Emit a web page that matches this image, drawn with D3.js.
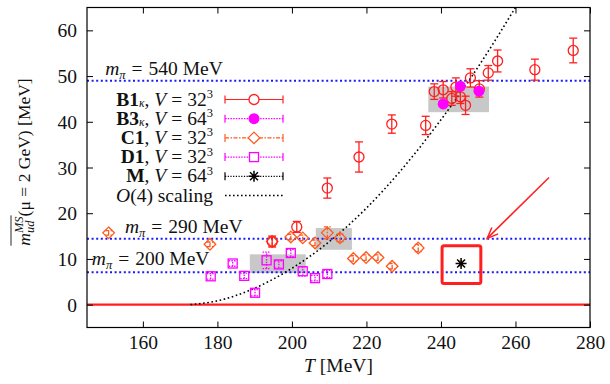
<!DOCTYPE html>
<html>
<head>
<meta charset="utf-8">
<script src="https://cdn.jsdelivr.net/npm/d3@7"></script>
<style>
body { margin: 0; background: #fff; }
svg text { font-family: "Liberation Serif", "DejaVu Serif", serif; font-size: 19.5px; white-space: pre; fill: #111; }
</style>
</head>
<body>
<svg width="610" height="384"></svg>
<script>
// B1_kappa, V=32^3 : T, m, error
var b1T = [194.7, 201.3, 209.5, 218.0, 226.8, 235.9, 238.2, 240.6, 242.9, 244.0, 245.2, 246.6, 247.9, 250.3, 252.7, 255.2, 265.2, 275.5];
var b1M = [13.8, 17.0, 25.5, 32.3, 39.5, 39.2, 46.6, 47.0, 45.1, 47.6, 45.5, 43.6, 49.6, 47.2, 50.7, 53.3, 51.4, 55.6];
var b1Err = [1.2, 1.2, 2.2, 3.3, 2.0, 2.0, 1.7, 1.8, 1.5, 2.0, 1.5, 2.0, 2.0, 1.8, 1.6, 2.4, 2.3, 2.7];

// B3_kappa, V=64^3
var b3T = [240.6, 245.2, 250.2];
var b3M = [43.9, 47.8, 46.7];
var b3Err = [0.6, 0.6, 0.6];

// C1, V=32^3
var c1T = [150.8, 178.0, 194.7, 199.7, 202.9, 206.2, 209.5, 212.9, 216.5, 219.9, 223.1, 226.9, 233.9];
var c1M = [15.7, 13.2, 13.8, 14.8, 14.6, 13.5, 15.7, 14.6, 10.1, 10.3, 10.3, 8.4, 12.4];
var c1Err = [0.5, 0.5, 1.0, 0.6, 0.6, 0.6, 1.3, 0.8, 0.6, 0.6, 0.6, 0.6, 0.8];

// D1, V=32^3
var d1T = [178.2, 184.1, 187.2, 190.1, 193.2, 196.5, 199.7, 202.9, 206.2, 209.5];
var d1M = [6.2, 9.0, 6.3, 2.6, 9.7, 8.8, 11.3, 7.3, 5.8, 6.7];
var d1Err = [0.6, 0.6, 0.6, 0.7, 1.8, 0.8, 0.8, 1.0, 0.6, 0.8];

// M, V=64^3
var mT = [245.4];
var mM = [9.0];
var mErr = [0.6];

// O(4) scaling curve
var o4T = [172.8, 179.8, 189.7, 199.7, 209.6, 219.6, 229.5, 239.4, 249.4, 259.3, 261.3];
var o4M = [0, 0.8, 3.5, 7.8, 13.5, 20.8, 29.6, 39.8, 51.3, 64.1, 66.8];

// pion mass lines
var mpiLabels = ["540", "290", "200"];
var mpiLevels = [49.0, 14.4, 7.1];
var mpiTextT = [149.9, 155.2, 146.3];
var mpiTextM = [50.2, 15.7, 8.7];

// gray boxes [T0, T1, m0, m1]
var grayBoxes = [[236.6, 252.9, 42.1, 47.7], [188.7, 203.7, 6.9, 11.0], [206.4, 216.1, 12.0, 16.75]];
// red highlight box and arrow
var redBox = [240.3, 250.7, 4.6, 12.9];
var arrowFrom = [269.0, 27.8];
var arrowTo = [252.4, 14.5];

var xTicks = [160, 180, 200, 220, 240, 260, 280];
var yTicks = [0, 10, 20, 30, 40, 50, 60];

var cRed = "#ff1f1f", cMag = "#ff00ff", cOrange = "#ff5a1e", cBlue = "#1a1aff";

var svg = d3.select("svg");
var margin = {top: 7.5, right: 20, bottom: 56.5, left: 87};
var width = 610 - margin.left - margin.right;
var height = 384 - margin.top - margin.bottom;
var g = svg.append("g").attr("transform", "translate(" + margin.left + "," + margin.top + ")");

var x = d3.scaleLinear().domain([145, 280]).range([0, width]);
var y = d3.scaleLinear().domain([-5, 65]).range([height, 0]);

var defs = svg.append("defs");
defs.append("clipPath").attr("id", "plot").append("rect").attr("width", width).attr("height", height);
defs.append("marker").attr("id", "head").attr("markerUnits", "userSpaceOnUse")
    .attr("markerWidth", 14).attr("markerHeight", 14).attr("refX", 12).attr("refY", 7)
    .attr("orient", "auto")
    .append("path").attr("d", "M1,2.5 L12,7 L1,11.5").attr("fill", "none")
    .attr("stroke", cRed).attr("stroke-width", 1.5);

// text made of pieces (italic, bold, sub, sup, padding)
function rich(parent, x0, y0, pieces, anchor, size) {
    var grp = parent.append("g");
    var cx = 0, prevStart = 0;
    pieces.forEach(function(p) {
        var pad = p.pad || 0;
        var start = p.back ? prevStart : cx + pad;
        var t = grp.append("text")
            .attr("x", start)
            .attr("y", p.sub ? (p.sd || 4) : (p.sup ? -7.5 : 0))
            .style("font-size", p.fs || ((p.sub || p.sup) ? "12.5px" : (size || null)))
            .style("font-style", p.i ? "italic" : "normal")
            .style("font-weight", p.b ? "bold" : "normal")
            .text(p.t);
        var w = t.node().getComputedTextLength();
        p.x = start; p.w = w;
        prevStart = start;
        cx = Math.max(cx, start + w + pad);
    });
    var shift = anchor === "end" ? -cx : (anchor === "middle" ? -cx / 2 : 0);
    grp.attr("transform", "translate(" + (x0 + shift) + "," + y0 + ")");
    return grp;
}

// gray boxes
g.selectAll(".gbox").data(grayBoxes).enter().append("rect")
    .attr("x", function(d) { return x(d[0]); })
    .attr("y", function(d) { return y(d[3]); })
    .attr("width", function(d) { return x(d[1]) - x(d[0]); })
    .attr("height", function(d) { return y(d[2]) - y(d[3]); })
    .attr("fill", "#c8c8c8");

// pion mass lines and zero line
g.selectAll(".mpi").data(mpiLevels).enter().append("line")
    .attr("x1", 0).attr("x2", width)
    .attr("y1", function(d) { return y(d); }).attr("y2", function(d) { return y(d); })
    .attr("stroke", cBlue).attr("stroke-width", 2).attr("stroke-dasharray", "2,2.6");
g.append("line").attr("x1", 0).attr("x2", width).attr("y1", y(0)).attr("y2", y(0))
    .attr("stroke", cRed).attr("stroke-width", 2.2);

mpiLabels.forEach(function(lab, i) {
    rich(g, x(mpiTextT[i]), y(mpiTextM[i]),
        [{t: "m", i: 1}, {t: "π", i: 1, sub: 1}, {t: "=", pad: 6}, {t: lab + " MeV"}], "start");
});

// O(4) curve
g.append("path")
    .datum(o4T.map(function(t, i) { return [t, o4M[i]]; }))
    .attr("clip-path", "url(#plot)")
    .attr("fill", "none").attr("stroke", "#000").attr("stroke-width", 1.6)
    .attr("stroke-dasharray", "1.6,2.6")
    .attr("d", d3.line().curve(d3.curveMonotoneX)
        .x(function(d) { return x(d[0]); }).y(function(d) { return y(d[1]); }));

function errBars(T, M, E, color, dash, cap) {
    var eg = g.append("g").attr("stroke", color).attr("stroke-width", 1.3).attr("stroke-dasharray", dash);
    T.forEach(function(t, i) {
        var px = x(t), lo = y(M[i] - E[i]), hi = y(M[i] + E[i]);
        eg.append("line").attr("x1", px).attr("x2", px).attr("y1", lo).attr("y2", hi);
        eg.append("line").attr("x1", px - cap).attr("x2", px + cap).attr("y1", lo).attr("y2", lo);
        eg.append("line").attr("x1", px - cap).attr("x2", px + cap).attr("y1", hi).attr("y2", hi);
    });
}

function diamond(s) { return "M0," + (-s) + "L" + s + ",0L0," + s + "L" + (-s) + ",0Z"; }
function asterisk(s) {
    var k = s * 0.72;
    return "M" + (-s) + ",0H" + s + "M0," + (-s) + "V" + s +
        "M" + (-k) + "," + (-k) + "L" + k + "," + k + "M" + (-k) + "," + k + "L" + k + "," + (-k);
}

// D1
errBars(d1T, d1M, d1Err, cMag, "1.5,1.2", 4);
g.selectAll(".d1").data(d1T).enter().append("rect")
    .attr("x", function(d) { return x(d) - 4.5; })
    .attr("y", function(d, i) { return y(d1M[i]) - 4.5; })
    .attr("width", 9).attr("height", 9)
    .attr("fill", "none").attr("stroke", cMag).attr("stroke-width", 1.3);

// C1
errBars(c1T, c1M, c1Err, cOrange, "4,1.5,1.5,1.5", 3.5);
g.selectAll(".c1").data(c1T).enter().append("path")
    .attr("transform", function(d, i) { return "translate(" + x(d) + "," + y(c1M[i]) + ")"; })
    .attr("d", diamond(5.8))
    .attr("fill", "none").attr("stroke", cOrange).attr("stroke-width", 1.3);

// B1
errBars(b1T, b1M, b1Err, cRed, null, 4);
g.selectAll(".b1").data(b1T).enter().append("circle")
    .attr("cx", function(d) { return x(d); })
    .attr("cy", function(d, i) { return y(b1M[i]); })
    .attr("r", 5).attr("fill", "none").attr("stroke", cRed).attr("stroke-width", 1.3);

// B3
errBars(b3T, b3M, b3Err, cMag, "1.5,1.2", 3.5);
g.selectAll(".b3").data(b3T).enter().append("circle")
    .attr("cx", function(d) { return x(d); })
    .attr("cy", function(d, i) { return y(b3M[i]); })
    .attr("r", 5.5).attr("fill", cMag);

// M
errBars(mT, mM, mErr, cOrange, "1.5,1.2", 3);
g.selectAll(".mm").data(mT).enter().append("path")
    .attr("transform", function(d, i) { return "translate(" + x(d) + "," + y(mM[i]) + ")"; })
    .attr("d", asterisk(5.5)).attr("stroke", "#000").attr("stroke-width", 1.5);

// axes, ticks inward on all sides
var ax = g.append("g").attr("transform", "translate(0," + height + ")")
    .call(d3.axisBottom(x).tickValues(xTicks).tickSize(-6).tickSizeOuter(0));
ax.selectAll("text").attr("y", 21).attr("dy", null);
g.append("g").call(d3.axisTop(x).tickValues(xTicks).tickSize(-6).tickSizeOuter(0).tickFormat(""));
var ay = g.append("g").call(d3.axisLeft(y).tickValues(yTicks).tickSize(-6).tickSizeOuter(0));
ay.selectAll("text").attr("x", -10).attr("dy", "0.34em");
g.append("g").attr("transform", "translate(" + width + ",0)")
    .call(d3.axisRight(y).tickValues(yTicks).tickSize(-6).tickSizeOuter(0).tickFormat(""));
g.selectAll(".domain").remove();
g.selectAll(".tick line").attr("stroke", "#000");
g.append("rect").attr("width", width).attr("height", height)
    .attr("fill", "none").attr("stroke", "#000").attr("stroke-width", 1.2);

// axis titles
rich(svg, margin.left + width / 2, 372, [{t: "T", i: 1}, {t: " [MeV]"}], "middle");
var yl = svg.append("g").attr("transform", "translate(30,162) rotate(-90)");
var ylPieces = [{t: "m", i: 1}, {t: "ud", i: 1, sub: 1}, {t: "MS", i: 1, sup: 1, back: 1},
    {t: "(μ"}, {t: "=", pad: 4.5}, {t: "2 GeV) [MeV]"}];
var ylg = rich(yl, 0, 0, ylPieces, "middle", "17.5px");
ylg.append("line").attr("x1", ylPieces[0].x).attr("x2", ylPieces[2].x + ylPieces[2].w + 1)
    .attr("y1", -19).attr("y2", -19).attr("stroke", "#111").attr("stroke-width", 0.9);

// legend
var kap = {t: "κ", i: 1, sub: 1, sd: 1.5, fs: "11.5px"};
var legRows = [
    {p: [{t: "B1", b: 1}, kap, {t: ", "}, {t: "V", i: 1}, {t: "=", pad: 5}, {t: "32"}, {t: "3", sup: 1}], color: cRed, dash: null, sym: "circle", ends: true},
    {p: [{t: "B3", b: 1}, kap, {t: ", "}, {t: "V", i: 1}, {t: "=", pad: 5}, {t: "64"}, {t: "3", sup: 1}], color: cMag, dash: "1.5,1.2", sym: "dot", ends: true},
    {p: [{t: "C1", b: 1}, {t: ", "}, {t: "V", i: 1}, {t: "=", pad: 5}, {t: "32"}, {t: "3", sup: 1}], color: cOrange, dash: "4,1.5,1.5,1.5", sym: "diamond", ends: true},
    {p: [{t: "D1", b: 1}, {t: ", "}, {t: "V", i: 1}, {t: "=", pad: 5}, {t: "32"}, {t: "3", sup: 1}], color: cMag, dash: "1.5,1.2", sym: "square", ends: true},
    {p: [{t: "M", b: 1}, {t: ", "}, {t: "V", i: 1}, {t: "=", pad: 5}, {t: "64"}, {t: "3", sup: 1}], color: "#000", dash: "1.2,1.5", sym: "star", ends: true},
    {p: [{t: "O", i: 1}, {t: "(4) scaling"}], color: "#000", dash: "1.6,2.4", sym: null, ends: false}
];
legRows.forEach(function(r, i) {
    var ry = 99.5 + i * 19.2;
    rich(svg, 213, ry + 6, r.p, "end");
    var lg = svg.append("g").attr("stroke", r.color).attr("stroke-width", r.sym ? 1.2 : 1.6);
    lg.append("line").attr("x1", 225).attr("x2", 283).attr("y1", ry).attr("y2", ry).attr("stroke-dasharray", r.dash);
    if (r.ends) {
        lg.append("line").attr("x1", 225).attr("x2", 225).attr("y1", ry - 4).attr("y2", ry + 4);
        lg.append("line").attr("x1", 283).attr("x2", 283).attr("y1", ry - 4).attr("y2", ry + 4);
    }
    if (r.sym === "circle") lg.append("circle").attr("cx", 254).attr("cy", ry).attr("r", 5).attr("fill", "#fff").attr("stroke-width", 1.3);
    if (r.sym === "dot") lg.append("circle").attr("cx", 254).attr("cy", ry).attr("r", 5.5).attr("fill", cMag).attr("stroke", "none");
    if (r.sym === "diamond") lg.append("path").attr("transform", "translate(254," + ry + ")").attr("d", diamond(5.8)).attr("fill", "#fff").attr("stroke-width", 1.3);
    if (r.sym === "square") lg.append("rect").attr("x", 249.5).attr("y", ry - 4.5).attr("width", 9).attr("height", 9).attr("fill", "#fff").attr("stroke-width", 1.3);
    if (r.sym === "star") lg.append("path").attr("transform", "translate(254," + ry + ")").attr("d", asterisk(5.5)).attr("stroke-width", 1.5);
});

// red highlight box and arrow
g.append("rect")
    .attr("x", x(redBox[0])).attr("y", y(redBox[3]))
    .attr("width", x(redBox[1]) - x(redBox[0])).attr("height", y(redBox[2]) - y(redBox[3]))
    .attr("rx", 2).attr("fill", "none").attr("stroke", cRed).attr("stroke-width", 3);
g.append("line")
    .attr("x1", x(arrowFrom[0])).attr("y1", y(arrowFrom[1]))
    .attr("x2", x(arrowTo[0])).attr("y2", y(arrowTo[1]))
    .attr("stroke", cRed).attr("stroke-width", 1.5).attr("marker-end", "url(#head)");
</script>
</body>
</html>
